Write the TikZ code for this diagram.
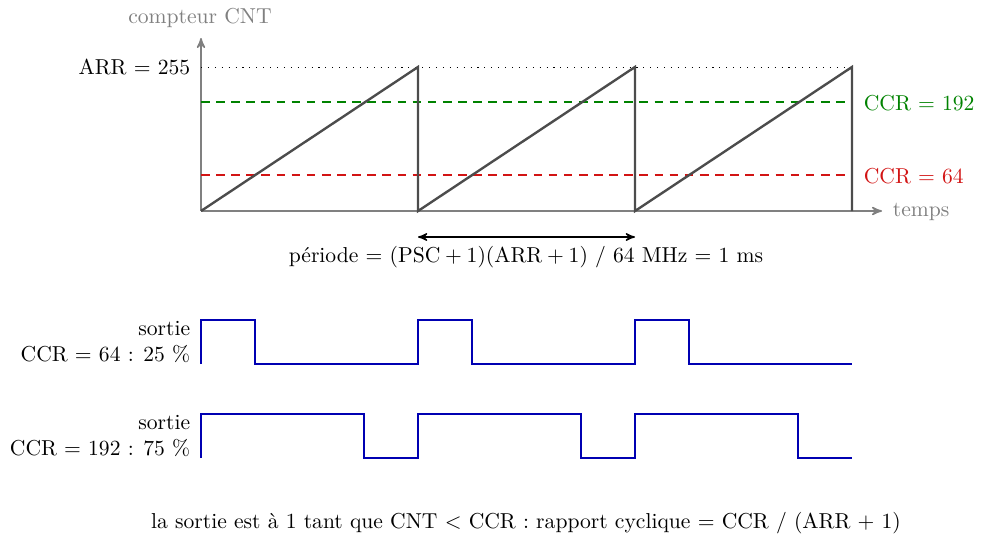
\documentclass[tikz,border=0pt]{standalone}
\usepackage{amsmath}
\usepackage{tikz}
\usetikzlibrary{arrows,positioning}
\definecolor{vert}{RGB}{0,130,0}
\definecolor{rouge}{RGB}{210,20,20}

\begin{document}
\begin{tikzpicture}[x=0.463pt,y=-0.463pt,>=stealth',semithick]
		\tikzstyle{axe}=[gray,line width=0.7pt,->]
		\tikzstyle{gris}=[text=gray]
		\tikzstyle{seuil}=[line width=0.5pt,dash pattern=on 4pt off 3pt]
		\tikzstyle{scie}=[black!70,line width=1.1pt]
		\tikzstyle{pwm}=[blue!70!black,line width=0.9pt]
		\useasboundingbox (0,0) rectangle (984,544);

		% axes
		\coordinate (o) at (201,211);
		\coordinate (ymax) at (201,38);
		\coordinate (xmax) at (882,211);
		\draw[axe] (o) -- (ymax);
		\draw[axe] (o) -- (xmax);
		\node[gris] (cnt) at (200,18) {compteur CNT};
		\node[gris,anchor=west] (temps) at (885,212) {temps};

		% niveaux
		\coordinate (arrg) at (201,67);
		\coordinate (arrd) at (852,67);
		\coordinate (hautg) at (201,102);
		\coordinate (hautd) at (852,102);
		\coordinate (basg) at (201,175);
		\coordinate (basd) at (852,175);
		\draw[line width=0.45pt,dash pattern=on 0.5pt off 2.7pt] (arrg) -- (arrd);
		\draw[seuil,color=vert] (hautg) -- (hautd);
		\draw[seuil,color=rouge] (basg) -- (basd);
		\node[anchor=east] (arr) at (198,67) {ARR = 255};
		\node[anchor=west,text=vert] (c192) at (856,103) {CCR = 192};
		\node[anchor=west,text=rouge] (c64) at (856,176) {CCR = 64};

		% compteur
		\draw[scie] (201,211) -- (418,67) -- (418,211) -- (635,67) -- (635,211)
		 -- (852,67) -- (852,211);

		% periode
		\coordinate (p1) at (418,237);
		\coordinate (p2) at (635,237);
		\draw[<->] (p1) -- (p2);
		\node (per) at (526,257) {période = $(\text{PSC}+1)(\text{ARR}+1)$ / 64 MHz = 1 ms};

		% sorties
		\draw[pwm] (201,364) -- (201,320) -- (255,320) -- (255,364) -- (418,364)
		 -- (418,320) -- (472,320) -- (472,364) -- (635,364) -- (635,320)
		 -- (689,320) -- (689,364) -- (852,364);
		\draw[pwm] (201,458) -- (201,414) -- (364,414) -- (364,458) -- (418,458)
		 -- (418,414) -- (581,414) -- (581,458) -- (635,458) -- (635,414)
		 -- (798,414) -- (798,458) -- (852,458);
		\node[anchor=east,align=right] (s64) at (198,342) {sortie\\CCR = 64 : 25 \%};
		\node[anchor=east,align=right] (s192) at (198,436) {sortie\\CCR = 192 : 75 \%};

		\node (bilan) at (526,523) {la sortie est à 1 tant que CNT $<$ CCR : rapport cyclique = CCR / (ARR + 1)};
\end{tikzpicture}
\end{document}
